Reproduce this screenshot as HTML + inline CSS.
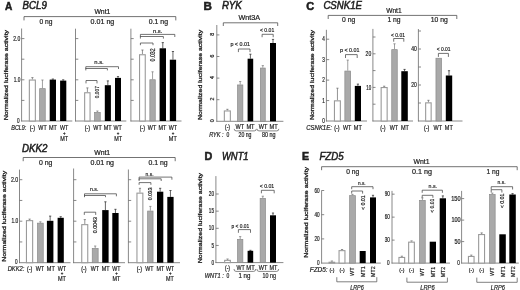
<!DOCTYPE html>
<html><head><meta charset="utf-8"><style>
html,body{margin:0;padding:0;background:#fff;width:520px;height:290px;overflow:hidden}
svg{display:block;filter:blur(0.3px)}
text{font-family:"Liberation Sans",sans-serif;fill:#1e1e1e;stroke:#1e1e1e;stroke-width:0.2px}
</style></head><body>
<svg width="520" height="290" viewBox="0 0 520 290">
<rect width="520" height="290" fill="#fff"/>
<text x="5" y="9.6" font-size="11" style="stroke-width:0.55px" font-weight="bold" textLength="7.3" lengthAdjust="spacingAndGlyphs">A</text>
<text x="22.6" y="9.2" font-size="10" style="stroke-width:0.5px" font-style="italic" textLength="24.2" lengthAdjust="spacingAndGlyphs">BCL9</text>
<text x="8.3" y="120.3" font-size="6.2" style="stroke-width:0.3px" textLength="90.4" lengthAdjust="spacingAndGlyphs" transform="rotate(-90 8.3 120.3)">Normalized luciferase activity</text>
<text x="94.4" y="13.7" font-size="6.4" textLength="16" lengthAdjust="spacingAndGlyphs">Wnt1</text>
<polyline points="24,20.4 24,16.6 175.8,16.6 175.8,20.4" fill="none" stroke="#444" stroke-width="0.75"/>
<text x="39.5" y="24" font-size="6.4" textLength="13" lengthAdjust="spacingAndGlyphs">0 ng</text>
<text x="90.6" y="24" font-size="6.4" textLength="23.7" lengthAdjust="spacingAndGlyphs">0.01 ng</text>
<text x="148.8" y="24" font-size="6.4" textLength="19.2" lengthAdjust="spacingAndGlyphs">0.1 ng</text>
<line x1="21.6" y1="28.5" x2="21.6" y2="121.4" stroke="#6a6a6a" stroke-width="0.8"/>
<line x1="21.2" y1="121" x2="72.3" y2="121" stroke="#6a6a6a" stroke-width="0.8"/>
<line x1="21.6" y1="38.6" x2="24.4" y2="38.6" stroke="#6a6a6a" stroke-width="0.8"/>
<line x1="21.6" y1="59.2" x2="24.4" y2="59.2" stroke="#6a6a6a" stroke-width="0.8"/>
<line x1="21.6" y1="79.8" x2="24.4" y2="79.8" stroke="#6a6a6a" stroke-width="0.8"/>
<line x1="21.6" y1="100.4" x2="24.4" y2="100.4" stroke="#6a6a6a" stroke-width="0.8"/>
<line x1="75.5" y1="28.7" x2="75.5" y2="121.4" stroke="#6a6a6a" stroke-width="0.8"/>
<line x1="75.1" y1="121" x2="126.3" y2="121" stroke="#6a6a6a" stroke-width="0.8"/>
<line x1="75.5" y1="38.6" x2="78.3" y2="38.6" stroke="#6a6a6a" stroke-width="0.8"/>
<line x1="75.5" y1="59.2" x2="78.3" y2="59.2" stroke="#6a6a6a" stroke-width="0.8"/>
<line x1="75.5" y1="79.8" x2="78.3" y2="79.8" stroke="#6a6a6a" stroke-width="0.8"/>
<line x1="75.5" y1="100.4" x2="78.3" y2="100.4" stroke="#6a6a6a" stroke-width="0.8"/>
<line x1="130.9" y1="28.7" x2="130.9" y2="121.4" stroke="#6a6a6a" stroke-width="0.8"/>
<line x1="130.5" y1="121" x2="181.5" y2="121" stroke="#6a6a6a" stroke-width="0.8"/>
<line x1="130.9" y1="38.6" x2="133.7" y2="38.6" stroke="#6a6a6a" stroke-width="0.8"/>
<line x1="130.9" y1="59.2" x2="133.7" y2="59.2" stroke="#6a6a6a" stroke-width="0.8"/>
<line x1="130.9" y1="79.8" x2="133.7" y2="79.8" stroke="#6a6a6a" stroke-width="0.8"/>
<line x1="130.9" y1="100.4" x2="133.7" y2="100.4" stroke="#6a6a6a" stroke-width="0.8"/>
<text x="20.3" y="40.8" font-size="6.3" text-anchor="end" textLength="7" lengthAdjust="spacingAndGlyphs">2.0</text>
<text x="20.3" y="82" font-size="6.3" text-anchor="end" textLength="6.6" lengthAdjust="spacingAndGlyphs">1.0</text>
<text x="19.6" y="123" font-size="6.3" text-anchor="end" textLength="2.6" lengthAdjust="spacingAndGlyphs">0</text>
<line x1="32.4" y1="79.5" x2="32.4" y2="77.6" stroke="#666666" stroke-width="0.7"/>
<line x1="31.3" y1="77.6" x2="33.5" y2="77.6" stroke="#666666" stroke-width="0.7"/>
<rect x="29.35" y="80.05" width="6" height="40.95" fill="#ffffff" stroke="#9a9a9a" stroke-width="1.1"/>
<line x1="42.45" y1="88.3" x2="42.45" y2="80" stroke="#777777" stroke-width="0.7"/>
<line x1="41.35" y1="80" x2="43.55" y2="80" stroke="#777777" stroke-width="0.7"/>
<rect x="39.65" y="88.65" width="5.6" height="32.35" fill="#a9a9a9" stroke="#8a8a8a" stroke-width="0.7"/>
<line x1="52.85" y1="79.6" x2="52.85" y2="79" stroke="#222222" stroke-width="0.7"/>
<line x1="51.75" y1="79" x2="53.95" y2="79" stroke="#222222" stroke-width="0.7"/>
<rect x="49.7" y="79.6" width="6.3" height="41.4" fill="#000000"/>
<line x1="63.2" y1="80.6" x2="63.2" y2="79.8" stroke="#222222" stroke-width="0.7"/>
<line x1="62.1" y1="79.8" x2="64.3" y2="79.8" stroke="#222222" stroke-width="0.7"/>
<rect x="60.1" y="80.6" width="6.2" height="40.4" fill="#000000"/>
<line x1="87.4" y1="92.2" x2="87.4" y2="87.9" stroke="#666666" stroke-width="0.7"/>
<line x1="86.3" y1="87.9" x2="88.5" y2="87.9" stroke="#666666" stroke-width="0.7"/>
<rect x="84.65" y="92.75" width="5.4" height="28.25" fill="#ffffff" stroke="#9a9a9a" stroke-width="1.1"/>
<line x1="97.4" y1="112" x2="97.4" y2="111" stroke="#777777" stroke-width="0.7"/>
<line x1="96.3" y1="111" x2="98.5" y2="111" stroke="#777777" stroke-width="0.7"/>
<rect x="94.55" y="112.35" width="5.7" height="8.65" fill="#a9a9a9" stroke="#8a8a8a" stroke-width="0.7"/>
<line x1="107.85" y1="85.2" x2="107.85" y2="80.9" stroke="#222222" stroke-width="0.7"/>
<line x1="106.75" y1="80.9" x2="108.95" y2="80.9" stroke="#222222" stroke-width="0.7"/>
<rect x="104.8" y="85.2" width="6.1" height="35.8" fill="#000000"/>
<line x1="118" y1="77.9" x2="118" y2="76.6" stroke="#222222" stroke-width="0.7"/>
<line x1="116.9" y1="76.6" x2="119.1" y2="76.6" stroke="#222222" stroke-width="0.7"/>
<rect x="115" y="77.9" width="6" height="43.1" fill="#000000"/>
<polyline points="86,83.4 86,80.5 97,80.5 97,83.4" fill="none" stroke="#444" stroke-width="0.75"/>
<text x="98.6" y="98.2" font-size="6" textLength="12.2" lengthAdjust="spacingAndGlyphs" transform="rotate(-90 98.6 98.2)">0.007</text>
<polyline points="85.8,69 85.8,66.7 118.5,66.7 118.5,69" fill="none" stroke="#444" stroke-width="0.75"/>
<polyline points="85.8,70.4 85.8,68.5 107.4,68.5 107.4,70.4" fill="none" stroke="#444" stroke-width="0.75"/>
<text x="94.3" y="64" font-size="6" textLength="9.4" lengthAdjust="spacingAndGlyphs">n.s.</text>
<line x1="142.45" y1="54.2" x2="142.45" y2="50" stroke="#666666" stroke-width="0.7"/>
<line x1="141.35" y1="50" x2="143.55" y2="50" stroke="#666666" stroke-width="0.7"/>
<rect x="139.55" y="54.75" width="5.7" height="66.25" fill="#ffffff" stroke="#9a9a9a" stroke-width="1.1"/>
<line x1="152.55" y1="79.4" x2="152.55" y2="71.8" stroke="#777777" stroke-width="0.7"/>
<line x1="151.45" y1="71.8" x2="153.65" y2="71.8" stroke="#777777" stroke-width="0.7"/>
<rect x="149.85" y="79.75" width="5.4" height="41.25" fill="#a9a9a9" stroke="#8a8a8a" stroke-width="0.7"/>
<line x1="162.8" y1="48.3" x2="162.8" y2="42.6" stroke="#222222" stroke-width="0.7"/>
<line x1="161.7" y1="42.6" x2="163.9" y2="42.6" stroke="#222222" stroke-width="0.7"/>
<rect x="159.6" y="48.3" width="6.4" height="72.7" fill="#000000"/>
<line x1="172.95" y1="59.7" x2="172.95" y2="51.5" stroke="#222222" stroke-width="0.7"/>
<line x1="171.85" y1="51.5" x2="174.05" y2="51.5" stroke="#222222" stroke-width="0.7"/>
<rect x="169.8" y="59.7" width="6.3" height="61.3" fill="#000000"/>
<polyline points="140.4,45.2 140.4,43 153,43 153,45.2" fill="none" stroke="#444" stroke-width="0.75"/>
<text x="155.2" y="61.4" font-size="6.4" textLength="13" lengthAdjust="spacingAndGlyphs" transform="rotate(-90 155.2 61.4)">0.032</text>
<polyline points="140.4,37 140.4,34.4 174.8,34.4 174.8,37" fill="none" stroke="#444" stroke-width="0.75"/>
<polyline points="140.4,38.6 140.4,36.5 163.4,36.5 163.4,38.6" fill="none" stroke="#444" stroke-width="0.75"/>
<text x="152.9" y="32.6" font-size="6" textLength="9.4" lengthAdjust="spacingAndGlyphs">n.s.</text>
<text x="26.3" y="130.3" font-size="6.3" text-anchor="end" font-style="italic" textLength="15" lengthAdjust="spacingAndGlyphs">BCL9:</text>
<text x="32.4" y="130.3" font-size="6.3" text-anchor="middle" textLength="5.3" lengthAdjust="spacingAndGlyphs">(-)</text>
<text x="42.5" y="130.3" font-size="6.3" text-anchor="middle" textLength="8.3" lengthAdjust="spacingAndGlyphs">WT</text>
<text x="53" y="130.3" font-size="6.3" text-anchor="middle" textLength="7.9" lengthAdjust="spacingAndGlyphs">MT</text>
<text x="64.2" y="130.3" font-size="6.3" text-anchor="middle" textLength="8.3" lengthAdjust="spacingAndGlyphs">WT</text>
<text x="64.4" y="134.9" font-size="4.5" text-anchor="middle" textLength="2.6" lengthAdjust="spacingAndGlyphs">+</text>
<text x="64.2" y="140.6" font-size="6.3" text-anchor="middle" textLength="7.9" lengthAdjust="spacingAndGlyphs">MT</text>
<text x="87.3" y="130.3" font-size="6.3" text-anchor="middle" textLength="5.3" lengthAdjust="spacingAndGlyphs">(-)</text>
<text x="97.5" y="130.3" font-size="6.3" text-anchor="middle" textLength="8.3" lengthAdjust="spacingAndGlyphs">WT</text>
<text x="107.7" y="130.3" font-size="6.3" text-anchor="middle" textLength="7.9" lengthAdjust="spacingAndGlyphs">MT</text>
<text x="117.6" y="130.3" font-size="6.3" text-anchor="middle" textLength="8.3" lengthAdjust="spacingAndGlyphs">WT</text>
<text x="118" y="134.9" font-size="4.5" text-anchor="middle" textLength="2.6" lengthAdjust="spacingAndGlyphs">+</text>
<text x="118.1" y="140.6" font-size="6.3" text-anchor="middle" textLength="7.9" lengthAdjust="spacingAndGlyphs">MT</text>
<text x="142.3" y="130.3" font-size="6.3" text-anchor="middle" textLength="5.3" lengthAdjust="spacingAndGlyphs">(-)</text>
<text x="152" y="130.3" font-size="6.3" text-anchor="middle" textLength="8.3" lengthAdjust="spacingAndGlyphs">WT</text>
<text x="162.5" y="130.3" font-size="6.3" text-anchor="middle" textLength="7.9" lengthAdjust="spacingAndGlyphs">MT</text>
<text x="172.8" y="130.3" font-size="6.3" text-anchor="middle" textLength="8.3" lengthAdjust="spacingAndGlyphs">WT</text>
<text x="173.1" y="134.9" font-size="4.5" text-anchor="middle" textLength="2.6" lengthAdjust="spacingAndGlyphs">+</text>
<text x="172.8" y="140.6" font-size="6.3" text-anchor="middle" textLength="7.9" lengthAdjust="spacingAndGlyphs">MT</text>
<text x="22" y="151.9" font-size="10" style="stroke-width:0.5px" font-style="italic" textLength="25.5" lengthAdjust="spacingAndGlyphs">DKK2</text>
<text x="5.6" y="261.7" font-size="6.2" style="stroke-width:0.3px" textLength="90.9" lengthAdjust="spacingAndGlyphs" transform="rotate(-90 5.6 261.7)">Normalized luciferase activity</text>
<text x="94.2" y="154.8" font-size="6.4" textLength="16" lengthAdjust="spacingAndGlyphs">Wnt1</text>
<polyline points="23.2,161.2 23.2,157.5 175.2,157.5 175.2,161.2" fill="none" stroke="#444" stroke-width="0.75"/>
<text x="38.9" y="165.4" font-size="6.4" textLength="13.5" lengthAdjust="spacingAndGlyphs">0 ng</text>
<text x="90.5" y="165.3" font-size="6.4" textLength="23.5" lengthAdjust="spacingAndGlyphs">0.01 ng</text>
<text x="148.5" y="165.3" font-size="6.4" textLength="19.2" lengthAdjust="spacingAndGlyphs">0.1 ng</text>
<line x1="19.5" y1="169.6" x2="19.5" y2="263.1" stroke="#6a6a6a" stroke-width="0.8"/>
<line x1="19.1" y1="262.7" x2="70.5" y2="262.7" stroke="#6a6a6a" stroke-width="0.8"/>
<line x1="19.5" y1="179.7" x2="22.3" y2="179.7" stroke="#6a6a6a" stroke-width="0.8"/>
<line x1="19.5" y1="200.45" x2="22.3" y2="200.45" stroke="#6a6a6a" stroke-width="0.8"/>
<line x1="19.5" y1="221.2" x2="22.3" y2="221.2" stroke="#6a6a6a" stroke-width="0.8"/>
<line x1="19.5" y1="241.95" x2="22.3" y2="241.95" stroke="#6a6a6a" stroke-width="0.8"/>
<line x1="73.6" y1="168.5" x2="73.6" y2="263.1" stroke="#6a6a6a" stroke-width="0.8"/>
<line x1="73.2" y1="262.7" x2="125" y2="262.7" stroke="#6a6a6a" stroke-width="0.8"/>
<line x1="73.6" y1="179.7" x2="76.4" y2="179.7" stroke="#6a6a6a" stroke-width="0.8"/>
<line x1="73.6" y1="200.45" x2="76.4" y2="200.45" stroke="#6a6a6a" stroke-width="0.8"/>
<line x1="73.6" y1="221.2" x2="76.4" y2="221.2" stroke="#6a6a6a" stroke-width="0.8"/>
<line x1="73.6" y1="241.95" x2="76.4" y2="241.95" stroke="#6a6a6a" stroke-width="0.8"/>
<line x1="128.4" y1="169.5" x2="128.4" y2="263.1" stroke="#6a6a6a" stroke-width="0.8"/>
<line x1="128" y1="262.7" x2="180" y2="262.7" stroke="#6a6a6a" stroke-width="0.8"/>
<line x1="128.4" y1="179.7" x2="131.2" y2="179.7" stroke="#6a6a6a" stroke-width="0.8"/>
<line x1="128.4" y1="200.45" x2="131.2" y2="200.45" stroke="#6a6a6a" stroke-width="0.8"/>
<line x1="128.4" y1="221.2" x2="131.2" y2="221.2" stroke="#6a6a6a" stroke-width="0.8"/>
<line x1="128.4" y1="241.95" x2="131.2" y2="241.95" stroke="#6a6a6a" stroke-width="0.8"/>
<text x="18.2" y="181.9" font-size="6.3" text-anchor="end" textLength="7.3" lengthAdjust="spacingAndGlyphs">2.0</text>
<text x="18.3" y="223.4" font-size="6.3" text-anchor="end" textLength="6.8" lengthAdjust="spacingAndGlyphs">1.0</text>
<text x="17.6" y="264.3" font-size="6.3" text-anchor="end" textLength="2.6" lengthAdjust="spacingAndGlyphs">0</text>
<line x1="29.6" y1="220.1" x2="29.6" y2="219.1" stroke="#666666" stroke-width="0.7"/>
<line x1="28.5" y1="219.1" x2="30.7" y2="219.1" stroke="#666666" stroke-width="0.7"/>
<rect x="26.45" y="220.65" width="6.2" height="42.05" fill="#ffffff" stroke="#9a9a9a" stroke-width="1.1"/>
<line x1="40.35" y1="222.8" x2="40.35" y2="221.8" stroke="#777777" stroke-width="0.7"/>
<line x1="39.25" y1="221.8" x2="41.45" y2="221.8" stroke="#777777" stroke-width="0.7"/>
<rect x="37.45" y="223.15" width="5.8" height="39.55" fill="#a9a9a9" stroke="#8a8a8a" stroke-width="0.7"/>
<line x1="50.15" y1="220.8" x2="50.15" y2="216.1" stroke="#222222" stroke-width="0.7"/>
<line x1="49.05" y1="216.1" x2="51.25" y2="216.1" stroke="#222222" stroke-width="0.7"/>
<rect x="46.9" y="220.8" width="6.5" height="41.9" fill="#000000"/>
<line x1="60.7" y1="217.8" x2="60.7" y2="216.7" stroke="#222222" stroke-width="0.7"/>
<line x1="59.6" y1="216.7" x2="61.8" y2="216.7" stroke="#222222" stroke-width="0.7"/>
<rect x="57.6" y="217.8" width="6.2" height="44.9" fill="#000000"/>
<line x1="84.8" y1="224.1" x2="84.8" y2="219.6" stroke="#666666" stroke-width="0.7"/>
<line x1="83.7" y1="219.6" x2="85.9" y2="219.6" stroke="#666666" stroke-width="0.7"/>
<rect x="81.75" y="224.65" width="6" height="38.05" fill="#ffffff" stroke="#9a9a9a" stroke-width="1.1"/>
<line x1="95.2" y1="248.1" x2="95.2" y2="246" stroke="#777777" stroke-width="0.7"/>
<line x1="94.1" y1="246" x2="96.3" y2="246" stroke="#777777" stroke-width="0.7"/>
<rect x="92.25" y="248.45" width="5.9" height="14.25" fill="#a9a9a9" stroke="#8a8a8a" stroke-width="0.7"/>
<line x1="105.4" y1="210.1" x2="105.4" y2="201.8" stroke="#222222" stroke-width="0.7"/>
<line x1="104.3" y1="201.8" x2="106.5" y2="201.8" stroke="#222222" stroke-width="0.7"/>
<rect x="102.2" y="210.1" width="6.4" height="52.6" fill="#000000"/>
<line x1="115.45" y1="213" x2="115.45" y2="209.3" stroke="#222222" stroke-width="0.7"/>
<line x1="114.35" y1="209.3" x2="116.55" y2="209.3" stroke="#222222" stroke-width="0.7"/>
<rect x="112.3" y="213" width="6.3" height="49.7" fill="#000000"/>
<polyline points="84.3,214.9 84.3,212.2 95.7,212.2 95.7,214.9" fill="none" stroke="#444" stroke-width="0.75"/>
<text x="97.3" y="233.3" font-size="6" textLength="16.3" lengthAdjust="spacingAndGlyphs" transform="rotate(-90 97.3 233.3)">0.0043</text>
<polyline points="84.5,196.3 84.5,193.8 116.4,193.8 116.4,196.3" fill="none" stroke="#444" stroke-width="0.75"/>
<polyline points="84.5,197.2 84.5,195.5 105.5,195.5 105.5,197.2" fill="none" stroke="#444" stroke-width="0.75"/>
<text x="90" y="191.3" font-size="6" textLength="8.4" lengthAdjust="spacingAndGlyphs">n.s.</text>
<line x1="139.95" y1="192.6" x2="139.95" y2="188.3" stroke="#666666" stroke-width="0.7"/>
<line x1="138.85" y1="188.3" x2="141.05" y2="188.3" stroke="#666666" stroke-width="0.7"/>
<rect x="136.95" y="193.15" width="5.9" height="69.55" fill="#ffffff" stroke="#9a9a9a" stroke-width="1.1"/>
<line x1="150.35" y1="210.7" x2="150.35" y2="206.4" stroke="#777777" stroke-width="0.7"/>
<line x1="149.25" y1="206.4" x2="151.45" y2="206.4" stroke="#777777" stroke-width="0.7"/>
<rect x="147.65" y="211.05" width="5.4" height="51.65" fill="#a9a9a9" stroke="#8a8a8a" stroke-width="0.7"/>
<line x1="160.15" y1="191.7" x2="160.15" y2="188.3" stroke="#222222" stroke-width="0.7"/>
<line x1="159.05" y1="188.3" x2="161.25" y2="188.3" stroke="#222222" stroke-width="0.7"/>
<rect x="157" y="191.7" width="6.3" height="71" fill="#000000"/>
<line x1="170.45" y1="196.9" x2="170.45" y2="190.5" stroke="#222222" stroke-width="0.7"/>
<line x1="169.35" y1="190.5" x2="171.55" y2="190.5" stroke="#222222" stroke-width="0.7"/>
<rect x="167.3" y="196.9" width="6.3" height="65.8" fill="#000000"/>
<polyline points="139.1,184.8 139.1,182.6 150.9,182.6 150.9,184.8" fill="none" stroke="#444" stroke-width="0.75"/>
<text x="151.6" y="200.3" font-size="6" textLength="12.9" lengthAdjust="spacingAndGlyphs" transform="rotate(-90 151.6 200.3)">0.033</text>
<polyline points="139.1,179.7 139.1,177.1 171.9,177.1 171.9,179.7" fill="none" stroke="#444" stroke-width="0.75"/>
<polyline points="139.1,181 139.1,178.8 161.2,178.8 161.2,181" fill="none" stroke="#444" stroke-width="0.75"/>
<text x="145.6" y="175.9" font-size="6" textLength="8" lengthAdjust="spacingAndGlyphs">n.s.</text>
<text x="24.3" y="270.9" font-size="6.3" text-anchor="end" font-style="italic" textLength="16.6" lengthAdjust="spacingAndGlyphs">DKK2:</text>
<text x="29.6" y="270.9" font-size="6.3" text-anchor="middle" textLength="5.3" lengthAdjust="spacingAndGlyphs">(-)</text>
<text x="39.9" y="270.9" font-size="6.3" text-anchor="middle" textLength="8.4" lengthAdjust="spacingAndGlyphs">WT</text>
<text x="50.8" y="270.9" font-size="6.3" text-anchor="middle" textLength="8" lengthAdjust="spacingAndGlyphs">MT</text>
<text x="61.9" y="270.9" font-size="6.3" text-anchor="middle" textLength="8.4" lengthAdjust="spacingAndGlyphs">WT</text>
<text x="62.1" y="275.3" font-size="4.5" text-anchor="middle" textLength="2.6" lengthAdjust="spacingAndGlyphs">+</text>
<text x="61.9" y="281.1" font-size="6.3" text-anchor="middle" textLength="8" lengthAdjust="spacingAndGlyphs">MT</text>
<text x="84" y="270.9" font-size="6.3" text-anchor="middle" textLength="5.3" lengthAdjust="spacingAndGlyphs">(-)</text>
<text x="94.8" y="270.9" font-size="6.3" text-anchor="middle" textLength="8.2" lengthAdjust="spacingAndGlyphs">WT</text>
<text x="105.6" y="270.9" font-size="6.3" text-anchor="middle" textLength="7.8" lengthAdjust="spacingAndGlyphs">MT</text>
<text x="116.3" y="270.9" font-size="6.3" text-anchor="middle" textLength="8.2" lengthAdjust="spacingAndGlyphs">WT</text>
<text x="116.6" y="275.3" font-size="4.5" text-anchor="middle" textLength="2.6" lengthAdjust="spacingAndGlyphs">+</text>
<text x="116.3" y="281.1" font-size="6.3" text-anchor="middle" textLength="7.8" lengthAdjust="spacingAndGlyphs">MT</text>
<text x="139.4" y="270.9" font-size="6.3" text-anchor="middle" textLength="5.3" lengthAdjust="spacingAndGlyphs">(-)</text>
<text x="149.3" y="270.9" font-size="6.3" text-anchor="middle" textLength="8.2" lengthAdjust="spacingAndGlyphs">WT</text>
<text x="160.3" y="270.9" font-size="6.3" text-anchor="middle" textLength="7.8" lengthAdjust="spacingAndGlyphs">MT</text>
<text x="170" y="270.9" font-size="6.3" text-anchor="middle" textLength="8.2" lengthAdjust="spacingAndGlyphs">WT</text>
<text x="170.3" y="275.3" font-size="4.5" text-anchor="middle" textLength="2.6" lengthAdjust="spacingAndGlyphs">+</text>
<text x="170" y="281.1" font-size="6.3" text-anchor="middle" textLength="7.8" lengthAdjust="spacingAndGlyphs">MT</text>
<text x="203.6" y="9.6" font-size="11" style="stroke-width:0.55px" font-weight="bold" textLength="8.4" lengthAdjust="spacingAndGlyphs">B</text>
<text x="222" y="9.2" font-size="10" style="stroke-width:0.5px" font-style="italic" textLength="19.8" lengthAdjust="spacingAndGlyphs">RYK</text>
<text x="202.2" y="119.9" font-size="6.2" style="stroke-width:0.3px" textLength="90.2" lengthAdjust="spacingAndGlyphs" transform="rotate(-90 202.2 119.9)">Normalized luciferase activity</text>
<text x="238.4" y="20.4" font-size="6.4" textLength="21.6" lengthAdjust="spacingAndGlyphs">Wnt3A</text>
<polyline points="223.3,26 223.3,22.8 277.7,22.8 277.7,26" fill="none" stroke="#444" stroke-width="0.75"/>
<line x1="216.8" y1="25" x2="216.8" y2="121.7" stroke="#6a6a6a" stroke-width="0.8"/>
<line x1="216.4" y1="121.3" x2="283.4" y2="121.3" stroke="#6a6a6a" stroke-width="0.8"/>
<line x1="216.8" y1="99.7" x2="219.4" y2="99.7" stroke="#6a6a6a" stroke-width="0.8"/>
<line x1="216.8" y1="78.1" x2="219.4" y2="78.1" stroke="#6a6a6a" stroke-width="0.8"/>
<line x1="216.8" y1="56.5" x2="219.4" y2="56.5" stroke="#6a6a6a" stroke-width="0.8"/>
<line x1="216.8" y1="34.9" x2="219.4" y2="34.9" stroke="#6a6a6a" stroke-width="0.8"/>
<text x="213.7" y="34.3" font-size="5.4" text-anchor="middle" transform="rotate(-90 213.7 34.3)">8</text>
<text x="213.7" y="55.9" font-size="5.4" text-anchor="middle" transform="rotate(-90 213.7 55.9)">6</text>
<text x="213.7" y="77.5" font-size="5.4" text-anchor="middle" transform="rotate(-90 213.7 77.5)">4</text>
<text x="213.7" y="99.1" font-size="5.4" text-anchor="middle" transform="rotate(-90 213.7 99.1)">2</text>
<text x="213.7" y="120.7" font-size="5.4" text-anchor="middle" transform="rotate(-90 213.7 120.7)">0</text>
<line x1="227.4" y1="110.4" x2="227.4" y2="109.3" stroke="#666666" stroke-width="0.7"/>
<line x1="226.3" y1="109.3" x2="228.5" y2="109.3" stroke="#666666" stroke-width="0.7"/>
<rect x="224.35" y="110.95" width="6" height="10.35" fill="#ffffff" stroke="#9a9a9a" stroke-width="1.1"/>
<line x1="240.2" y1="84.6" x2="240.2" y2="81.5" stroke="#777777" stroke-width="0.7"/>
<line x1="239.1" y1="81.5" x2="241.3" y2="81.5" stroke="#777777" stroke-width="0.7"/>
<rect x="237.55" y="84.95" width="5.3" height="36.35" fill="#a9a9a9" stroke="#8a8a8a" stroke-width="0.7"/>
<line x1="250.4" y1="58.7" x2="250.4" y2="54.2" stroke="#222222" stroke-width="0.7"/>
<line x1="249.3" y1="54.2" x2="251.5" y2="54.2" stroke="#222222" stroke-width="0.7"/>
<rect x="247.6" y="58.7" width="5.6" height="62.6" fill="#000000"/>
<line x1="262.8" y1="67.7" x2="262.8" y2="65.6" stroke="#777777" stroke-width="0.7"/>
<line x1="261.7" y1="65.6" x2="263.9" y2="65.6" stroke="#777777" stroke-width="0.7"/>
<rect x="260.35" y="68.05" width="4.9" height="53.25" fill="#a9a9a9" stroke="#8a8a8a" stroke-width="0.7"/>
<line x1="273" y1="43" x2="273" y2="39.4" stroke="#222222" stroke-width="0.7"/>
<line x1="271.9" y1="39.4" x2="274.1" y2="39.4" stroke="#222222" stroke-width="0.7"/>
<rect x="270" y="43" width="6" height="78.3" fill="#000000"/>
<polyline points="238.4,52.1 238.4,49 250,49 250,52.1" fill="none" stroke="#444" stroke-width="0.75"/>
<text x="230.4" y="45.9" font-size="6.2" textLength="19.5" lengthAdjust="spacingAndGlyphs">p &lt; 0.01</text>
<polyline points="262.1,37.2 262.1,34.3 273.2,34.3 273.2,37.2" fill="none" stroke="#444" stroke-width="0.75"/>
<text x="260" y="32.2" font-size="6.2" textLength="14.2" lengthAdjust="spacingAndGlyphs">&lt; 0.01</text>
<text x="227.5" y="128.5" font-size="6.3" text-anchor="middle" textLength="5" lengthAdjust="spacingAndGlyphs">(-)</text>
<text x="239.9" y="128.5" font-size="6.3" text-anchor="middle" textLength="8.6" lengthAdjust="spacingAndGlyphs">WT</text>
<text x="250.5" y="128.5" font-size="6.3" text-anchor="middle" textLength="8.2" lengthAdjust="spacingAndGlyphs">MT</text>
<text x="263" y="128.5" font-size="6.3" text-anchor="middle" textLength="8.6" lengthAdjust="spacingAndGlyphs">WT</text>
<text x="273.6" y="128.5" font-size="6.3" text-anchor="middle" textLength="8.2" lengthAdjust="spacingAndGlyphs">MT</text>
<path d="M234.2,128.9 Q234.2,130.9 236.2,130.9 L254.3,130.9 Q256.3,130.9 256.3,128.9" fill="none" stroke="#555" stroke-width="0.7"/>
<path d="M257,128.9 Q257,130.9 259,130.9 L276.8,130.9 Q278.8,130.9 278.8,128.9" fill="none" stroke="#555" stroke-width="0.7"/>
<text x="223.6" y="137.1" font-size="6.3" text-anchor="end" font-style="italic" textLength="14.4" lengthAdjust="spacingAndGlyphs">RYK :</text>
<text x="228" y="137.1" font-size="6.3" text-anchor="middle" textLength="2.8" lengthAdjust="spacingAndGlyphs">0</text>
<text x="238.5" y="137.1" font-size="6.3" textLength="13" lengthAdjust="spacingAndGlyphs">20 ng</text>
<text x="262" y="137.1" font-size="6.3" textLength="13.5" lengthAdjust="spacingAndGlyphs">80 ng</text>
<text x="306.2" y="9.6" font-size="11" style="stroke-width:0.55px" font-weight="bold" textLength="7.9" lengthAdjust="spacingAndGlyphs">C</text>
<text x="323.4" y="9.2" font-size="10" style="stroke-width:0.5px" font-style="italic" textLength="38.6" lengthAdjust="spacingAndGlyphs">CSNK1E</text>
<text x="314.3" y="120.1" font-size="6.2" style="stroke-width:0.3px" textLength="90" lengthAdjust="spacingAndGlyphs" transform="rotate(-90 314.3 120.1)">Normalized luciferase activity</text>
<text x="386.2" y="13.1" font-size="6.4" textLength="15.4" lengthAdjust="spacingAndGlyphs">Wnt1</text>
<polyline points="328.2,19 328.2,15.4 456.8,15.4 456.8,19" fill="none" stroke="#444" stroke-width="0.75"/>
<text x="342" y="22" font-size="6.4" textLength="13.2" lengthAdjust="spacingAndGlyphs">0 ng</text>
<text x="387.4" y="22" font-size="6.4" textLength="13.2" lengthAdjust="spacingAndGlyphs">1 ng</text>
<text x="430.7" y="22" font-size="6.4" textLength="17" lengthAdjust="spacingAndGlyphs">10 ng</text>
<line x1="326.4" y1="29.8" x2="326.4" y2="121.4" stroke="#6a6a6a" stroke-width="0.8"/>
<line x1="326" y1="121" x2="367" y2="121" stroke="#6a6a6a" stroke-width="0.8"/>
<line x1="326.4" y1="100.55" x2="329.2" y2="100.55" stroke="#6a6a6a" stroke-width="0.8"/>
<line x1="326.4" y1="80.1" x2="329.2" y2="80.1" stroke="#6a6a6a" stroke-width="0.8"/>
<line x1="326.4" y1="59.65" x2="329.2" y2="59.65" stroke="#6a6a6a" stroke-width="0.8"/>
<line x1="326.4" y1="39.2" x2="329.2" y2="39.2" stroke="#6a6a6a" stroke-width="0.8"/>
<text x="324.8" y="41.3" font-size="6.3" text-anchor="end" textLength="2.6" lengthAdjust="spacingAndGlyphs">4</text>
<text x="324.8" y="61.75" font-size="6.3" text-anchor="end" textLength="2.6" lengthAdjust="spacingAndGlyphs">3</text>
<text x="324.8" y="82.2" font-size="6.3" text-anchor="end" textLength="2.6" lengthAdjust="spacingAndGlyphs">2</text>
<text x="324.8" y="102.65" font-size="6.3" text-anchor="end" textLength="2.6" lengthAdjust="spacingAndGlyphs">1</text>
<text x="324.8" y="123.1" font-size="6.3" text-anchor="end" textLength="2.6" lengthAdjust="spacingAndGlyphs">0</text>
<line x1="337.45" y1="100.3" x2="337.45" y2="88.2" stroke="#666666" stroke-width="0.7"/>
<line x1="336.35" y1="88.2" x2="338.55" y2="88.2" stroke="#666666" stroke-width="0.7"/>
<rect x="334.45" y="100.85" width="5.9" height="20.15" fill="#ffffff" stroke="#9a9a9a" stroke-width="1.1"/>
<line x1="347.75" y1="70.7" x2="347.75" y2="60.1" stroke="#777777" stroke-width="0.7"/>
<line x1="346.65" y1="60.1" x2="348.85" y2="60.1" stroke="#777777" stroke-width="0.7"/>
<rect x="344.85" y="71.05" width="5.8" height="49.95" fill="#a9a9a9" stroke="#8a8a8a" stroke-width="0.7"/>
<line x1="357.9" y1="85.9" x2="357.9" y2="84.1" stroke="#222222" stroke-width="0.7"/>
<line x1="356.8" y1="84.1" x2="359" y2="84.1" stroke="#222222" stroke-width="0.7"/>
<rect x="354.8" y="85.9" width="6.2" height="35.1" fill="#000000"/>
<polyline points="345.5,58 345.5,54.6 357.2,54.6 357.2,58" fill="none" stroke="#444" stroke-width="0.75"/>
<text x="340" y="52.2" font-size="6.2" textLength="19.5" lengthAdjust="spacingAndGlyphs">p &lt; 0.01</text>
<line x1="372.9" y1="28.9" x2="372.9" y2="121.4" stroke="#6a6a6a" stroke-width="0.8"/>
<line x1="372.5" y1="121" x2="413" y2="121" stroke="#6a6a6a" stroke-width="0.8"/>
<line x1="372.9" y1="104.2" x2="375.5" y2="104.2" stroke="#6a6a6a" stroke-width="0.8"/>
<line x1="372.9" y1="87.4" x2="375.5" y2="87.4" stroke="#6a6a6a" stroke-width="0.8"/>
<line x1="372.9" y1="70.6" x2="375.5" y2="70.6" stroke="#6a6a6a" stroke-width="0.8"/>
<line x1="372.9" y1="53.8" x2="375.5" y2="53.8" stroke="#6a6a6a" stroke-width="0.8"/>
<line x1="372.9" y1="37" x2="375.5" y2="37" stroke="#6a6a6a" stroke-width="0.8"/>
<text x="371.2" y="89.5" font-size="6.3" text-anchor="end" textLength="5" lengthAdjust="spacingAndGlyphs">10</text>
<text x="371.2" y="55.9" font-size="6.3" text-anchor="end" textLength="5.6" lengthAdjust="spacingAndGlyphs">20</text>
<line x1="384.2" y1="87" x2="384.2" y2="86.2" stroke="#666666" stroke-width="0.7"/>
<line x1="383.1" y1="86.2" x2="385.3" y2="86.2" stroke="#666666" stroke-width="0.7"/>
<rect x="381.15" y="87.55" width="6" height="33.45" fill="#ffffff" stroke="#9a9a9a" stroke-width="1.1"/>
<line x1="394.5" y1="49.3" x2="394.5" y2="43.8" stroke="#777777" stroke-width="0.7"/>
<line x1="393.4" y1="43.8" x2="395.6" y2="43.8" stroke="#777777" stroke-width="0.7"/>
<rect x="391.75" y="49.65" width="5.5" height="71.35" fill="#a9a9a9" stroke="#8a8a8a" stroke-width="0.7"/>
<line x1="404.55" y1="71.2" x2="404.55" y2="69.4" stroke="#222222" stroke-width="0.7"/>
<line x1="403.45" y1="69.4" x2="405.65" y2="69.4" stroke="#222222" stroke-width="0.7"/>
<rect x="401.3" y="71.2" width="6.5" height="49.8" fill="#000000"/>
<polyline points="393.7,41.7 393.7,38.5 403.8,38.5 403.8,41.7" fill="none" stroke="#444" stroke-width="0.75"/>
<text x="391" y="36.6" font-size="6.2" textLength="13.9" lengthAdjust="spacingAndGlyphs">&lt; 0.01</text>
<line x1="418.4" y1="29" x2="418.4" y2="121.4" stroke="#6a6a6a" stroke-width="0.8"/>
<line x1="418" y1="121" x2="462.5" y2="121" stroke="#6a6a6a" stroke-width="0.8"/>
<line x1="418.4" y1="103" x2="421" y2="103" stroke="#6a6a6a" stroke-width="0.8"/>
<line x1="418.4" y1="85" x2="421" y2="85" stroke="#6a6a6a" stroke-width="0.8"/>
<line x1="418.4" y1="67" x2="421" y2="67" stroke="#6a6a6a" stroke-width="0.8"/>
<line x1="418.4" y1="49" x2="421" y2="49" stroke="#6a6a6a" stroke-width="0.8"/>
<line x1="418.4" y1="31" x2="421" y2="31" stroke="#6a6a6a" stroke-width="0.8"/>
<text x="416.9" y="51.1" font-size="6.3" text-anchor="end" textLength="5.6" lengthAdjust="spacingAndGlyphs">40</text>
<text x="416.9" y="87.1" font-size="6.3" text-anchor="end" textLength="5.6" lengthAdjust="spacingAndGlyphs">20</text>
<line x1="428.45" y1="102.3" x2="428.45" y2="100.3" stroke="#666666" stroke-width="0.7"/>
<line x1="427.35" y1="100.3" x2="429.55" y2="100.3" stroke="#666666" stroke-width="0.7"/>
<rect x="425.65" y="102.85" width="5.5" height="18.15" fill="#ffffff" stroke="#9a9a9a" stroke-width="1.1"/>
<rect x="435.95" y="58.25" width="5.6" height="62.75" fill="#a9a9a9" stroke="#8a8a8a" stroke-width="0.7"/>
<line x1="449" y1="75.5" x2="449" y2="70.7" stroke="#222222" stroke-width="0.7"/>
<line x1="447.9" y1="70.7" x2="450.1" y2="70.7" stroke="#222222" stroke-width="0.7"/>
<rect x="445.8" y="75.5" width="6.4" height="45.5" fill="#000000"/>
<polyline points="438.4,56.9 438.4,53.4 448.4,53.4 448.4,56.9" fill="none" stroke="#444" stroke-width="0.75"/>
<text x="436.7" y="51.4" font-size="6.2" textLength="13.8" lengthAdjust="spacingAndGlyphs">&lt; 0.01</text>
<text x="331.8" y="129.5" font-size="6.3" text-anchor="end" font-style="italic" textLength="25.5" lengthAdjust="spacingAndGlyphs">CSNK1E:</text>
<text x="336.9" y="129.5" font-size="6.3" text-anchor="middle" textLength="5.3" lengthAdjust="spacingAndGlyphs">(-)</text>
<text x="347.1" y="129.5" font-size="6.3" text-anchor="middle" textLength="8.3" lengthAdjust="spacingAndGlyphs">WT</text>
<text x="357.8" y="129.5" font-size="6.3" text-anchor="middle" textLength="8" lengthAdjust="spacingAndGlyphs">MT</text>
<text x="382.8" y="129.5" font-size="6.3" text-anchor="middle" textLength="5.3" lengthAdjust="spacingAndGlyphs">(-)</text>
<text x="393.8" y="129.5" font-size="6.3" text-anchor="middle" textLength="8.3" lengthAdjust="spacingAndGlyphs">WT</text>
<text x="405" y="129.5" font-size="6.3" text-anchor="middle" textLength="8" lengthAdjust="spacingAndGlyphs">MT</text>
<text x="426.6" y="129.5" font-size="6.3" text-anchor="middle" textLength="5.3" lengthAdjust="spacingAndGlyphs">(-)</text>
<text x="437.8" y="129.5" font-size="6.3" text-anchor="middle" textLength="8.5" lengthAdjust="spacingAndGlyphs">WT</text>
<text x="448.8" y="129.5" font-size="6.3" text-anchor="middle" textLength="8" lengthAdjust="spacingAndGlyphs">MT</text>
<text x="204.6" y="159.8" font-size="11" style="stroke-width:0.55px" font-weight="bold" textLength="7.8" lengthAdjust="spacingAndGlyphs">D</text>
<text x="222" y="159.6" font-size="10" style="stroke-width:0.5px" font-style="italic" textLength="26.6" lengthAdjust="spacingAndGlyphs">WNT1</text>
<text x="202.2" y="263.2" font-size="6.2" style="stroke-width:0.3px" textLength="90.3" lengthAdjust="spacingAndGlyphs" transform="rotate(-90 202.2 263.2)">Normalized luciferase activity</text>
<line x1="215.9" y1="176.1" x2="215.9" y2="263" stroke="#6a6a6a" stroke-width="0.8"/>
<line x1="215.5" y1="262.6" x2="283.4" y2="262.6" stroke="#6a6a6a" stroke-width="0.8"/>
<line x1="215.9" y1="245.45" x2="218.7" y2="245.45" stroke="#6a6a6a" stroke-width="0.8"/>
<line x1="215.9" y1="228.3" x2="218.7" y2="228.3" stroke="#6a6a6a" stroke-width="0.8"/>
<line x1="215.9" y1="211.15" x2="218.7" y2="211.15" stroke="#6a6a6a" stroke-width="0.8"/>
<line x1="215.9" y1="194" x2="218.7" y2="194" stroke="#6a6a6a" stroke-width="0.8"/>
<text x="214" y="196.1" font-size="6.3" text-anchor="end" textLength="5.2" lengthAdjust="spacingAndGlyphs">20</text>
<text x="214" y="213.25" font-size="6.3" text-anchor="end" textLength="5.2" lengthAdjust="spacingAndGlyphs">15</text>
<text x="214" y="230.4" font-size="6.3" text-anchor="end" textLength="5.2" lengthAdjust="spacingAndGlyphs">10</text>
<text x="214" y="247.55" font-size="6.3" text-anchor="end" textLength="2.6" lengthAdjust="spacingAndGlyphs">5</text>
<text x="214" y="264.7" font-size="6.3" text-anchor="end" textLength="2.6" lengthAdjust="spacingAndGlyphs">0</text>
<line x1="227.55" y1="259.8" x2="227.55" y2="259" stroke="#666666" stroke-width="0.7"/>
<line x1="226.45" y1="259" x2="228.65" y2="259" stroke="#666666" stroke-width="0.7"/>
<rect x="224.65" y="260.35" width="5.7" height="2.25" fill="#ffffff" stroke="#9a9a9a" stroke-width="1.1"/>
<line x1="240.2" y1="239" x2="240.2" y2="236.6" stroke="#777777" stroke-width="0.7"/>
<line x1="239.1" y1="236.6" x2="241.3" y2="236.6" stroke="#777777" stroke-width="0.7"/>
<rect x="237.55" y="239.35" width="5.3" height="23.25" fill="#a9a9a9" stroke="#8a8a8a" stroke-width="0.7"/>
<line x1="250.4" y1="250.8" x2="250.4" y2="250.3" stroke="#222222" stroke-width="0.7"/>
<line x1="249.3" y1="250.3" x2="251.5" y2="250.3" stroke="#222222" stroke-width="0.7"/>
<rect x="247.6" y="250.8" width="5.6" height="11.8" fill="#000000"/>
<line x1="262.8" y1="198" x2="262.8" y2="196.2" stroke="#777777" stroke-width="0.7"/>
<line x1="261.7" y1="196.2" x2="263.9" y2="196.2" stroke="#777777" stroke-width="0.7"/>
<rect x="260.15" y="198.35" width="5.3" height="64.25" fill="#a9a9a9" stroke="#8a8a8a" stroke-width="0.7"/>
<line x1="273" y1="215.3" x2="273" y2="213" stroke="#222222" stroke-width="0.7"/>
<line x1="271.9" y1="213" x2="274.1" y2="213" stroke="#222222" stroke-width="0.7"/>
<rect x="270" y="215.3" width="6" height="47.3" fill="#000000"/>
<polyline points="238.4,232.8 238.4,229.6 250.5,229.6 250.5,232.8" fill="none" stroke="#444" stroke-width="0.75"/>
<text x="231.5" y="227.6" font-size="6.2" textLength="17.6" lengthAdjust="spacingAndGlyphs">p &lt; 0.01</text>
<polyline points="261.4,193.3 261.4,190.3 274.2,190.3 274.2,193.3" fill="none" stroke="#444" stroke-width="0.75"/>
<text x="259.7" y="188.3" font-size="6.2" textLength="14.5" lengthAdjust="spacingAndGlyphs">&lt; 0.01</text>
<text x="227.5" y="269.9" font-size="6.3" text-anchor="middle" textLength="5" lengthAdjust="spacingAndGlyphs">(-)</text>
<text x="240.7" y="269.9" font-size="6.3" text-anchor="middle" textLength="8.3" lengthAdjust="spacingAndGlyphs">WT</text>
<text x="250.5" y="269.9" font-size="6.3" text-anchor="middle" textLength="8.4" lengthAdjust="spacingAndGlyphs">MT</text>
<text x="263" y="269.9" font-size="6.3" text-anchor="middle" textLength="8.6" lengthAdjust="spacingAndGlyphs">WT</text>
<text x="273.4" y="269.9" font-size="6.3" text-anchor="middle" textLength="8" lengthAdjust="spacingAndGlyphs">MT</text>
<path d="M234,269 Q234,271.4 236,271.4 L253.7,271.4 Q255.7,271.4 255.7,269" fill="none" stroke="#555" stroke-width="0.7"/>
<path d="M256.9,269 Q256.9,271.4 258.9,271.4 L276.7,271.4 Q278.7,271.4 278.7,269" fill="none" stroke="#555" stroke-width="0.7"/>
<text x="223.7" y="278.1" font-size="6.3" text-anchor="end" font-style="italic" textLength="19" lengthAdjust="spacingAndGlyphs">WNT1 :</text>
<text x="228" y="278.1" font-size="6.3" text-anchor="middle" textLength="2.8" lengthAdjust="spacingAndGlyphs">0</text>
<text x="238.4" y="278.1" font-size="6.3" textLength="12" lengthAdjust="spacingAndGlyphs">1 ng</text>
<text x="262.6" y="278.1" font-size="6.3" textLength="13.3" lengthAdjust="spacingAndGlyphs">10 ng</text>
<text x="302" y="159.8" font-size="11" style="stroke-width:0.55px" font-weight="bold" textLength="7.1" lengthAdjust="spacingAndGlyphs">E</text>
<text x="319.4" y="159.6" font-size="10" style="stroke-width:0.5px" font-style="italic" textLength="24.2" lengthAdjust="spacingAndGlyphs">FZD5</text>
<text x="308.3" y="257.8" font-size="6.2" style="stroke-width:0.3px" textLength="90.9" lengthAdjust="spacingAndGlyphs" transform="rotate(-90 308.3 257.8)">Normalized luciferase activity</text>
<text x="413.5" y="163.8" font-size="6.4" textLength="16" lengthAdjust="spacingAndGlyphs">Wnt1</text>
<polyline points="321.6,170.2 321.6,166.7 517.2,166.7 517.2,170.2" fill="none" stroke="#444" stroke-width="0.75"/>
<text x="346.2" y="173.7" font-size="6.4" textLength="13" lengthAdjust="spacingAndGlyphs">0 ng</text>
<text x="412" y="174" font-size="6.4" textLength="20" lengthAdjust="spacingAndGlyphs">0.1 ng</text>
<text x="486.4" y="174" font-size="6.4" textLength="13" lengthAdjust="spacingAndGlyphs">1 ng</text>
<line x1="321.6" y1="190.4" x2="321.6" y2="263.5" stroke="#6a6a6a" stroke-width="0.8"/>
<line x1="321.2" y1="263.1" x2="380.8" y2="263.1" stroke="#6a6a6a" stroke-width="0.8"/>
<line x1="321.6" y1="238.9" x2="324.2" y2="238.9" stroke="#6a6a6a" stroke-width="0.8"/>
<line x1="321.6" y1="214.7" x2="324.2" y2="214.7" stroke="#6a6a6a" stroke-width="0.8"/>
<line x1="321.6" y1="190.5" x2="324.2" y2="190.5" stroke="#6a6a6a" stroke-width="0.8"/>
<text x="319.6" y="192.6" font-size="6.3" text-anchor="end" textLength="5.2" lengthAdjust="spacingAndGlyphs">60</text>
<text x="319.6" y="216.8" font-size="6.3" text-anchor="end" textLength="5.2" lengthAdjust="spacingAndGlyphs">40</text>
<text x="319.6" y="241" font-size="6.3" text-anchor="end" textLength="5.2" lengthAdjust="spacingAndGlyphs">20</text>
<text x="319.6" y="264.7" font-size="6.3" text-anchor="end" textLength="2.6" lengthAdjust="spacingAndGlyphs">0</text>
<line x1="331.9" y1="261.7" x2="331.9" y2="261" stroke="#666666" stroke-width="0.7"/>
<line x1="330.8" y1="261" x2="333" y2="261" stroke="#666666" stroke-width="0.7"/>
<rect x="329.05" y="262.25" width="5.6" height="0.85" fill="#ffffff" stroke="#9a9a9a" stroke-width="1.1"/>
<line x1="342.05" y1="250.1" x2="342.05" y2="249.5" stroke="#666666" stroke-width="0.7"/>
<line x1="340.95" y1="249.5" x2="343.15" y2="249.5" stroke="#666666" stroke-width="0.7"/>
<rect x="339.05" y="250.65" width="5.9" height="12.45" fill="#ffffff" stroke="#9a9a9a" stroke-width="1.1"/>
<line x1="352.5" y1="195.3" x2="352.5" y2="194.4" stroke="#777777" stroke-width="0.7"/>
<line x1="351.4" y1="194.4" x2="353.6" y2="194.4" stroke="#777777" stroke-width="0.7"/>
<rect x="349.65" y="195.65" width="5.7" height="67.45" fill="#a9a9a9" stroke="#8a8a8a" stroke-width="0.7"/>
<rect x="359.7" y="251" width="6" height="12.1" fill="#000000"/>
<line x1="373" y1="197.4" x2="373" y2="195.3" stroke="#222222" stroke-width="0.7"/>
<line x1="371.9" y1="195.3" x2="374.1" y2="195.3" stroke="#222222" stroke-width="0.7"/>
<rect x="370" y="197.4" width="6" height="65.7" fill="#000000"/>
<polyline points="351.7,193.6 351.7,191 362.6,191 362.6,193.6" fill="none" stroke="#444" stroke-width="0.75"/>
<text x="364.8" y="210" font-size="6" textLength="14.7" lengthAdjust="spacingAndGlyphs" transform="rotate(-90 364.8 210)">&lt; 0.01</text>
<polyline points="351.7,189.2 351.7,186.7 373,186.7 373,189.2" fill="none" stroke="#444" stroke-width="0.75"/>
<text x="358" y="184.9" font-size="6" textLength="7.6" lengthAdjust="spacingAndGlyphs">n.s.</text>
<text x="331.9" y="271.9" font-size="5.3" text-anchor="middle" textLength="5" lengthAdjust="spacingAndGlyphs">(-)</text>
<text x="342.05" y="271.9" font-size="5.3" text-anchor="middle" textLength="5" lengthAdjust="spacingAndGlyphs">(-)</text>
<text x="354.5" y="275.9" font-size="6" textLength="8.5" lengthAdjust="spacingAndGlyphs" transform="rotate(-90 354.5 275.9)">WT</text>
<text x="364.7" y="276.9" font-size="6" textLength="10.6" lengthAdjust="spacingAndGlyphs" transform="rotate(-90 364.7 276.9)">MT1</text>
<text x="375" y="276.9" font-size="6" textLength="10.6" lengthAdjust="spacingAndGlyphs" transform="rotate(-90 375 276.9)">MT2</text>
<text x="327.6" y="272.2" font-size="6.3" text-anchor="end" font-style="italic" textLength="17.8" lengthAdjust="spacingAndGlyphs">FZD5:</text>
<polyline points="336.8,277.2 336.8,281.8 376.8,281.8 376.8,277.2" fill="none" stroke="#555" stroke-width="0.75"/>
<text x="350.2" y="289.6" font-size="6.6" font-style="italic" textLength="13.5" lengthAdjust="spacingAndGlyphs">LRP6</text>
<line x1="392" y1="190.9" x2="392" y2="263.5" stroke="#6a6a6a" stroke-width="0.8"/>
<line x1="391.6" y1="263.1" x2="450" y2="263.1" stroke="#6a6a6a" stroke-width="0.8"/>
<line x1="392" y1="240.12" x2="394.6" y2="240.12" stroke="#6a6a6a" stroke-width="0.8"/>
<line x1="392" y1="217.14" x2="394.6" y2="217.14" stroke="#6a6a6a" stroke-width="0.8"/>
<line x1="392" y1="194.16" x2="394.6" y2="194.16" stroke="#6a6a6a" stroke-width="0.8"/>
<text x="389.9" y="196.26" font-size="6.3" text-anchor="end" textLength="5.2" lengthAdjust="spacingAndGlyphs">90</text>
<text x="389.9" y="219.24" font-size="6.3" text-anchor="end" textLength="5.2" lengthAdjust="spacingAndGlyphs">60</text>
<text x="389.9" y="242.22" font-size="6.3" text-anchor="end" textLength="5.2" lengthAdjust="spacingAndGlyphs">30</text>
<text x="389.6" y="264.7" font-size="6.3" text-anchor="end" textLength="2.6" lengthAdjust="spacingAndGlyphs">0</text>
<line x1="401.85" y1="256.9" x2="401.85" y2="256.2" stroke="#666666" stroke-width="0.7"/>
<line x1="400.75" y1="256.2" x2="402.95" y2="256.2" stroke="#666666" stroke-width="0.7"/>
<rect x="398.95" y="257.45" width="5.7" height="5.65" fill="#ffffff" stroke="#9a9a9a" stroke-width="1.1"/>
<line x1="411.55" y1="241.6" x2="411.55" y2="240.9" stroke="#666666" stroke-width="0.7"/>
<line x1="410.45" y1="240.9" x2="412.65" y2="240.9" stroke="#666666" stroke-width="0.7"/>
<rect x="408.65" y="242.15" width="5.7" height="20.95" fill="#ffffff" stroke="#9a9a9a" stroke-width="1.1"/>
<line x1="422.4" y1="200" x2="422.4" y2="197.9" stroke="#777777" stroke-width="0.7"/>
<line x1="421.3" y1="197.9" x2="423.5" y2="197.9" stroke="#777777" stroke-width="0.7"/>
<rect x="419.55" y="200.35" width="5.7" height="62.75" fill="#a9a9a9" stroke="#8a8a8a" stroke-width="0.7"/>
<rect x="429.7" y="241.7" width="6.3" height="21.4" fill="#000000"/>
<line x1="442.85" y1="198.3" x2="442.85" y2="195.9" stroke="#222222" stroke-width="0.7"/>
<line x1="441.75" y1="195.9" x2="443.95" y2="195.9" stroke="#222222" stroke-width="0.7"/>
<rect x="439.7" y="198.3" width="6.3" height="64.8" fill="#000000"/>
<polyline points="422.2,197.8 422.2,195.3 432.9,195.3 432.9,197.8" fill="none" stroke="#444" stroke-width="0.75"/>
<text x="434.4" y="212.8" font-size="6" textLength="14" lengthAdjust="spacingAndGlyphs" transform="rotate(-90 434.4 212.8)">&lt; 0.01</text>
<polyline points="422.2,192.8 422.2,190.2 442.4,190.2 442.4,192.8" fill="none" stroke="#444" stroke-width="0.75"/>
<text x="428.6" y="188.4" font-size="6" textLength="8.4" lengthAdjust="spacingAndGlyphs">n.s.</text>
<text x="401.85" y="271.9" font-size="5.3" text-anchor="middle" textLength="5" lengthAdjust="spacingAndGlyphs">(-)</text>
<text x="411.55" y="271.9" font-size="5.3" text-anchor="middle" textLength="5" lengthAdjust="spacingAndGlyphs">(-)</text>
<text x="424.4" y="276.3" font-size="6" textLength="8.5" lengthAdjust="spacingAndGlyphs" transform="rotate(-90 424.4 276.3)">WT</text>
<text x="434.85" y="277.3" font-size="6" textLength="10.6" lengthAdjust="spacingAndGlyphs" transform="rotate(-90 434.85 277.3)">MT1</text>
<text x="444.85" y="277.3" font-size="6" textLength="10.6" lengthAdjust="spacingAndGlyphs" transform="rotate(-90 444.85 277.3)">MT2</text>
<polyline points="406.9,277.6 406.9,282.2 447.4,282.2 447.4,277.6" fill="none" stroke="#555" stroke-width="0.75"/>
<text x="420.3" y="289.8" font-size="6.6" font-style="italic" textLength="14.3" lengthAdjust="spacingAndGlyphs">LRP6</text>
<line x1="461.6" y1="190.9" x2="461.6" y2="263.5" stroke="#6a6a6a" stroke-width="0.8"/>
<line x1="461.2" y1="263.1" x2="518.8" y2="263.1" stroke="#6a6a6a" stroke-width="0.8"/>
<line x1="461.6" y1="241.6" x2="464.2" y2="241.6" stroke="#6a6a6a" stroke-width="0.8"/>
<line x1="461.6" y1="220.1" x2="464.2" y2="220.1" stroke="#6a6a6a" stroke-width="0.8"/>
<line x1="461.6" y1="198.6" x2="464.2" y2="198.6" stroke="#6a6a6a" stroke-width="0.8"/>
<text x="460.6" y="200.7" font-size="6.3" text-anchor="end" textLength="9.4" lengthAdjust="spacingAndGlyphs">150</text>
<text x="460.6" y="222.2" font-size="6.3" text-anchor="end" textLength="9.2" lengthAdjust="spacingAndGlyphs">100</text>
<text x="460.4" y="243.7" font-size="6.3" text-anchor="end" textLength="6" lengthAdjust="spacingAndGlyphs">50</text>
<text x="459.9" y="264.7" font-size="6.3" text-anchor="end" textLength="2.6" lengthAdjust="spacingAndGlyphs">0</text>
<line x1="471.3" y1="255.9" x2="471.3" y2="255.1" stroke="#666666" stroke-width="0.7"/>
<line x1="470.2" y1="255.1" x2="472.4" y2="255.1" stroke="#666666" stroke-width="0.7"/>
<rect x="468.45" y="256.45" width="5.6" height="6.65" fill="#ffffff" stroke="#9a9a9a" stroke-width="1.1"/>
<line x1="481.65" y1="234" x2="481.65" y2="232.9" stroke="#666666" stroke-width="0.7"/>
<line x1="480.55" y1="232.9" x2="482.75" y2="232.9" stroke="#666666" stroke-width="0.7"/>
<rect x="478.65" y="234.55" width="5.9" height="28.55" fill="#ffffff" stroke="#9a9a9a" stroke-width="1.1"/>
<line x1="492.35" y1="194.1" x2="492.35" y2="193.1" stroke="#777777" stroke-width="0.7"/>
<line x1="491.25" y1="193.1" x2="493.45" y2="193.1" stroke="#777777" stroke-width="0.7"/>
<rect x="489.55" y="194.45" width="5.6" height="68.65" fill="#a9a9a9" stroke="#8a8a8a" stroke-width="0.7"/>
<rect x="499.3" y="234.3" width="6.5" height="28.8" fill="#000000"/>
<line x1="512.55" y1="194.5" x2="512.55" y2="193.6" stroke="#222222" stroke-width="0.7"/>
<line x1="511.45" y1="193.6" x2="513.65" y2="193.6" stroke="#222222" stroke-width="0.7"/>
<rect x="509.3" y="194.5" width="6.5" height="68.6" fill="#000000"/>
<polyline points="491.2,192.5 491.2,189.7 501.9,189.7 501.9,192.5" fill="none" stroke="#444" stroke-width="0.75"/>
<text x="504.3" y="208.3" font-size="6" textLength="14.7" lengthAdjust="spacingAndGlyphs" transform="rotate(-90 504.3 208.3)">&lt; 0.01</text>
<polyline points="491.2,189.5 491.2,186.7 512.6,186.7 512.6,189.5" fill="none" stroke="#444" stroke-width="0.75"/>
<text x="497.6" y="184.1" font-size="6" textLength="8" lengthAdjust="spacingAndGlyphs">n.s.</text>
<text x="471.3" y="272.2" font-size="5.3" text-anchor="middle" textLength="5" lengthAdjust="spacingAndGlyphs">(-)</text>
<text x="481.65" y="272.2" font-size="5.3" text-anchor="middle" textLength="5" lengthAdjust="spacingAndGlyphs">(-)</text>
<text x="494.35" y="276" font-size="6" textLength="8.5" lengthAdjust="spacingAndGlyphs" transform="rotate(-90 494.35 276)">WT</text>
<text x="504.55" y="277" font-size="6" textLength="10.6" lengthAdjust="spacingAndGlyphs" transform="rotate(-90 504.55 277)">MT1</text>
<text x="514.55" y="277" font-size="6" textLength="10.6" lengthAdjust="spacingAndGlyphs" transform="rotate(-90 514.55 277)">MT2</text>
<polyline points="476.8,277.6 476.8,282.3 517.2,282.3 517.2,277.6" fill="none" stroke="#555" stroke-width="0.75"/>
<text x="490.8" y="289.8" font-size="6.6" font-style="italic" textLength="14" lengthAdjust="spacingAndGlyphs">LRP6</text>
</svg></body></html>
